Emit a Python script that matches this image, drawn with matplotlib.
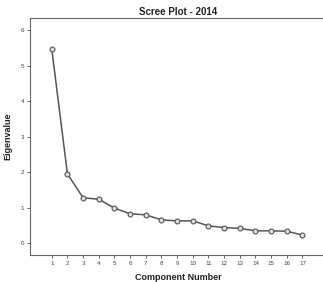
import matplotlib.pyplot as plt

plt.rcParams['font.family'] = ['Liberation Sans', 'DejaVu Sans']

# Дані для графіка кам'янистого осипу
components = list(range(1, 18))
eigenvalues = [5.46, 1.95, 1.28, 1.24, 0.99, 0.83, 0.80, 0.66, 0.63, 0.63,
               0.49, 0.44, 0.42, 0.35, 0.35, 0.34, 0.23]
y_ticks = [0, 1, 2, 3, 4, 5, 6]

W, H = 323, 282
fig = plt.figure(figsize=(W / 100, H / 100), dpi=100)
ax = fig.add_axes([30 / W, 1 - 255 / H, 296 / W, (255 - 18) / H])

ax.plot(components, eigenvalues, color='#555555', linewidth=1.1,
        marker='o', markersize=3.5, markerfacecolor='#dddddd',
        markeredgecolor='#555555', markeredgewidth=0.8)

ax.set_xlim(-0.39, 18.5)
ax.set_ylim(-0.33, 6.34)
ax.set_xticks(components)
ax.set_yticks(y_ticks)
ax.tick_params(labelsize=4.5, length=2, width=0.6, colors='#444444', pad=2)
for s in ax.spines.values():
    s.set_color('#666666')
    s.set_linewidth(0.8)
ax.spines['right'].set_visible(False)

ax.set_title('Scree Plot - 2014', fontsize=7, fontweight='bold', pad=2,
             color='#222222')
ax.set_xlabel('Component Number', fontsize=6.5, fontweight='bold', labelpad=5,
              color='#222222')
ax.set_ylabel('Eigenvalue', fontsize=6.5, fontweight='bold', labelpad=6,
              color='#222222')

fig.savefig('out.png', dpi=100)
